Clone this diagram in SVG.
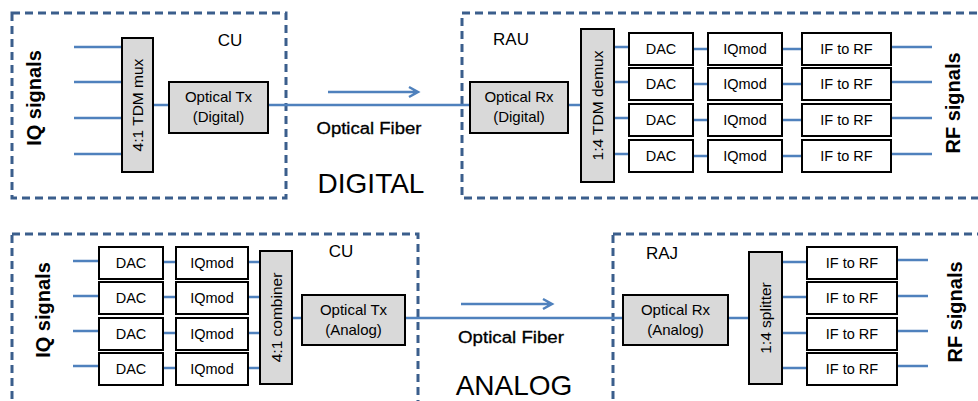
<svg xmlns="http://www.w3.org/2000/svg" width="978" height="401" viewBox="0 0 978 401">
<defs>
<style>
.dash{fill:none;stroke:#3b5e8c;stroke-width:3;stroke-dasharray:8 5}
.box{fill:#ffffff;stroke:#000;stroke-width:2}
.gbox{fill:#d9d9d9;stroke:#000;stroke-width:2}
.ln{fill:none;stroke:#4f81bd;stroke-width:2.5}
.t{font-family:"Liberation Sans",Arial,sans-serif;font-size:14.5px;fill:#000;text-anchor:middle}
.tr{font-family:"Liberation Sans",Arial,sans-serif;font-size:15.5px;fill:#000;text-anchor:middle}
.to{font-family:"Liberation Sans",Arial,sans-serif;font-size:15px;fill:#000;text-anchor:middle}
.lbl{font-family:"Liberation Sans",Arial,sans-serif;font-size:17px;fill:#000;text-anchor:middle}
.big{font-family:"Liberation Sans",Arial,sans-serif;font-size:28px;fill:#000;text-anchor:middle}
.sig{font-family:"Liberation Sans",Arial,sans-serif;font-size:20px;font-weight:bold;fill:#000;text-anchor:middle}
.fib{font-family:"Liberation Sans",Arial,sans-serif;font-size:16px;fill:#000;stroke:#000;stroke-width:0.3;text-anchor:middle}
</style>
</defs>
<rect width="978" height="401" fill="#ffffff"/>

<g id="regions">
<rect class="dash" x="12" y="13" width="274" height="185"/>
<rect class="dash" x="462" y="13" width="530" height="185"/>
<rect class="dash" x="12" y="234" width="406" height="190"/>
<rect class="dash" x="613" y="234" width="380" height="190"/>
</g>

<g id="connectors">
<path class="ln" d="M74,47H122M74,82H122M74,118H122M74,154H122"/>
<path class="ln" d="M153,105H169"/>
<path class="ln" d="M268,105H470"/>
<path class="ln" d="M328,92H417M409,87L418,92L409,97"/>
<path class="ln" d="M568,105H581"/>
<path class="ln" d="M614,47H629M614,82H629M614,118H629M614,154H629"/>
<path class="ln" d="M693,49H708M693,84H708M693,120H708M693,156H708"/>
<path class="ln" d="M782,49H802M782,84H802M782,120H802M782,156H802"/>
<path class="ln" d="M891,47H932M891,82H932M891,118H932M891,154H932"/>
<path class="ln" d="M73,261H99M73,296H99M73,331H99M73,366H99"/>
<path class="ln" d="M163,262H176M163,297H176M163,333H176M163,368H176"/>
<path class="ln" d="M248,262H260M248,297H260M248,333H260M248,368H260"/>
<path class="ln" d="M292,318H302"/>
<path class="ln" d="M405,318H623"/>
<path class="ln" d="M461,304H551M543,299L552,304L543,309"/>
<path class="ln" d="M728,318H749"/>
<path class="ln" d="M782,262H807M782,297H807M782,333H807M782,368H807"/>
<path class="ln" d="M897,260H928M897,296H928M897,331H928M897,366H928"/>
</g>

<g id="labels">
<text class="sig" transform="translate(41,98) rotate(-90)">IQ signals</text>
<text class="sig" transform="translate(960,103) rotate(-90)">RF signals</text>
<text class="sig" transform="translate(50,310) rotate(-90)">IQ signals</text>
<text class="sig" transform="translate(962,312) rotate(-90)">RF signals</text>
<text class="lbl" x="230" y="46">CU</text>
<text class="lbl" x="511" y="45">RAU</text>
<text class="lbl" x="341" y="257">CU</text>
<text class="lbl" x="662" y="259">RAJ</text>
<text class="fib" x="369" y="134" textLength="105" lengthAdjust="spacingAndGlyphs">Optical Fiber</text>
<text class="fib" x="511" y="343" textLength="106" lengthAdjust="spacingAndGlyphs">Optical Fiber</text>
<text class="big" x="371" y="193">DIGITAL</text>
<text class="big" x="514" y="395">ANALOG</text>
</g>

<g id="mux">
<rect class="gbox" x="122" y="38" width="31" height="134"/>
<text class="tr" transform="translate(143,105) rotate(-90)">4:1 TDM mux</text>
</g>
<g id="optical-tx-digital">
<rect class="gbox" x="169" y="82" width="99" height="51"/>
<text class="to" x="218.5" y="102">Optical Tx</text>
<text class="to" x="218.5" y="122">(Digital)</text>
</g>
<g id="optical-rx-digital">
<rect class="gbox" x="470" y="82" width="98" height="51"/>
<text class="to" x="519" y="102">Optical Rx</text>
<text class="to" x="519" y="122">(Digital)</text>
</g>
<g id="demux">
<rect class="gbox" x="581" y="29" width="33" height="153"/>
<text class="tr" transform="translate(603,105.5) rotate(-90)">1:4 TDM demux</text>
</g>
<g id="rau-dac">
<rect class="box" x="629" y="33" width="64" height="32"/><text class="t" x="661" y="54">DAC</text>
<rect class="box" x="629" y="68" width="64" height="32"/><text class="t" x="661" y="89">DAC</text>
<rect class="box" x="629" y="104" width="64" height="32"/><text class="t" x="661" y="125">DAC</text>
<rect class="box" x="629" y="140" width="64" height="32"/><text class="t" x="661" y="161">DAC</text>
</g>
<g id="rau-iqmod">
<rect class="box" x="708" y="33" width="74" height="32"/><text class="t" x="745" y="54">IQmod</text>
<rect class="box" x="708" y="68" width="74" height="32"/><text class="t" x="745" y="89">IQmod</text>
<rect class="box" x="708" y="104" width="74" height="32"/><text class="t" x="745" y="125">IQmod</text>
<rect class="box" x="708" y="140" width="74" height="32"/><text class="t" x="745" y="161">IQmod</text>
</g>
<g id="rau-iftorf">
<rect class="box" x="802" y="33" width="89" height="32"/><text class="t" x="846.5" y="54">IF to RF</text>
<rect class="box" x="802" y="68" width="89" height="32"/><text class="t" x="846.5" y="89">IF to RF</text>
<rect class="box" x="802" y="104" width="89" height="32"/><text class="t" x="846.5" y="125">IF to RF</text>
<rect class="box" x="802" y="140" width="89" height="32"/><text class="t" x="846.5" y="161">IF to RF</text>
</g>

<g id="cu-dac">
<rect class="box" x="99" y="247" width="64" height="32"/><text class="t" x="131" y="268">DAC</text>
<rect class="box" x="99" y="282" width="64" height="32"/><text class="t" x="131" y="303">DAC</text>
<rect class="box" x="99" y="318" width="64" height="32"/><text class="t" x="131" y="339">DAC</text>
<rect class="box" x="99" y="353" width="64" height="32"/><text class="t" x="131" y="374">DAC</text>
</g>
<g id="cu-iqmod">
<rect class="box" x="176" y="247" width="72" height="32"/><text class="t" x="212" y="268">IQmod</text>
<rect class="box" x="176" y="282" width="72" height="32"/><text class="t" x="212" y="303">IQmod</text>
<rect class="box" x="176" y="318" width="72" height="32"/><text class="t" x="212" y="339">IQmod</text>
<rect class="box" x="176" y="353" width="72" height="32"/><text class="t" x="212" y="374">IQmod</text>
</g>
<g id="combiner">
<rect class="gbox" x="260" y="251" width="32" height="133"/>
<text class="tr" transform="translate(281.5,317.5) rotate(-90)">4:1 combiner</text>
</g>
<g id="optical-tx-analog">
<rect class="gbox" x="302" y="295" width="103" height="50"/>
<text class="to" x="353.5" y="315">Optical Tx</text>
<text class="to" x="353.5" y="335">(Analog)</text>
</g>
<g id="optical-rx-analog">
<rect class="gbox" x="623" y="295" width="105" height="50"/>
<text class="to" x="675.5" y="315">Optical Rx</text>
<text class="to" x="675.5" y="335">(Analog)</text>
</g>
<g id="splitter">
<rect class="gbox" x="749" y="252" width="33" height="132"/>
<text class="tr" transform="translate(771,318) rotate(-90)">1:4 splitter</text>
</g>
<g id="raj-iftorf">
<rect class="box" x="807" y="247" width="90" height="32"/><text class="t" x="852" y="268">IF to RF</text>
<rect class="box" x="807" y="282" width="90" height="32"/><text class="t" x="852" y="303">IF to RF</text>
<rect class="box" x="807" y="318" width="90" height="32"/><text class="t" x="852" y="339">IF to RF</text>
<rect class="box" x="807" y="353" width="90" height="32"/><text class="t" x="852" y="374">IF to RF</text>
</g>
</svg>
